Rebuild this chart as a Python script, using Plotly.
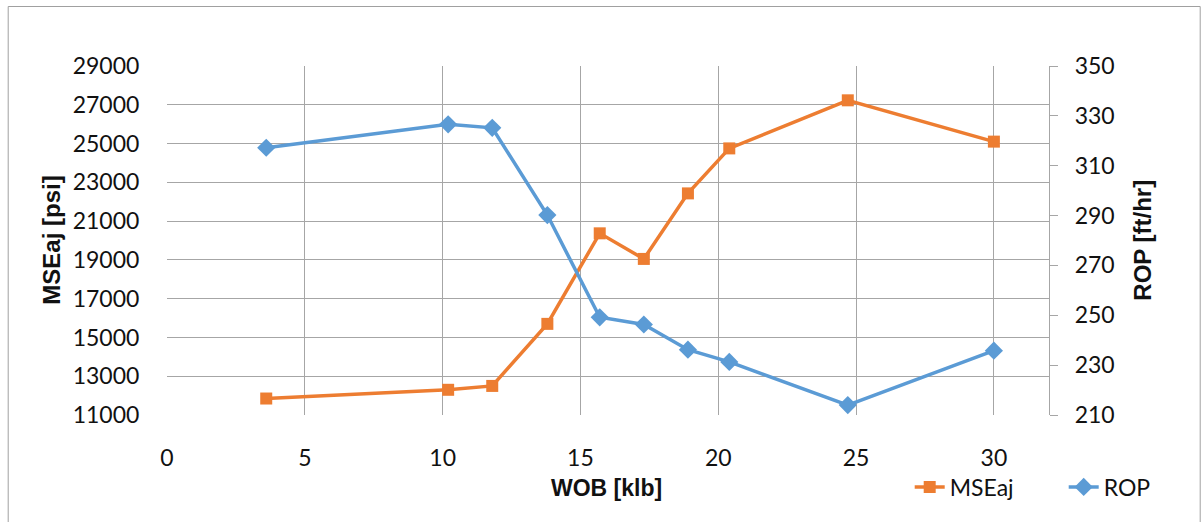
import plotly.graph_objects as go

# Data
wob = [3.6, 10.2, 11.8, 13.8, 15.7, 17.3, 18.9, 20.4, 24.7, 30.0]
mse_aj = [11850, 12300, 12500, 15700, 20370, 19050, 22430, 24750, 27230, 25100]
rop = [317.2, 326.6, 325.2, 290.2, 249.2, 246.3, 236.2, 231.3, 214.0, 235.8]

x_ticks = [0, 5, 10, 15, 20, 25, 30]
y1_ticks = list(range(11000, 29001, 2000))
y2_ticks = list(range(210, 351, 20))

ORANGE = "#ED7D31"
BLUE = "#5B9BD5"
GRID = "#A6A6A6"
FONT = "Lato, 'Open Sans', 'Liberation Sans', sans-serif"
TITLE_FONT = "'Liberation Sans', Arial, sans-serif"

fig = go.Figure()
fig.add_trace(go.Scatter(
    x=wob, y=mse_aj, name="MSEaj", mode="lines+markers",
    line=dict(color=ORANGE, width=3.5),
    marker=dict(symbol="square", size=12, color=ORANGE),
    yaxis="y", legend="legend"))
fig.add_trace(go.Scatter(
    x=wob, y=rop, name="ROP", mode="lines+markers",
    line=dict(color=BLUE, width=3.5),
    marker=dict(symbol="diamond", size=14, color=BLUE),
    yaxis="y2", legend="legend2"))

L, R, T, B = 167.3, 1203 - 1049.3, 66, 522 - 415
W, H = 1203, 522
pw, ph = W - L - R, H - T - B

def px_x(p):
    return (p - L) / pw

def px_y(p):
    return (H - B - p) / ph

legend_common = dict(orientation="h", xanchor="left", y=px_y(487), yanchor="middle",
                     font=dict(family=FONT, size=23, color="#111111"),
                     bgcolor="rgba(0,0,0,0)")

fig.update_layout(
    width=W, height=H,
    margin=dict(l=L, r=R, t=T, b=B, pad=0),
    paper_bgcolor="white", plot_bgcolor="white",
    font=dict(family=FONT, size=23, color="#111111"),
    showlegend=True,
    legend=dict(x=px_x(910), **legend_common),
    legend2=dict(x=px_x(1064), **legend_common),
    xaxis=dict(range=[0, 32], tickvals=x_ticks, ticktext=[str(v) for v in x_ticks],
               showgrid=True, gridcolor=GRID, gridwidth=1.2, zeroline=False,
               showline=False, ticks="outside", ticklen=22, tickcolor="rgba(0,0,0,0)",
               tickfont=dict(size=23)),
    yaxis=dict(range=[11000, 29000], tickvals=y1_ticks, ticktext=[str(v) for v in y1_ticks],
               showgrid=True, gridcolor=GRID, gridwidth=1.2, zeroline=False,
               showline=False, ticks="outside", ticklen=22, tickcolor="rgba(0,0,0,0)",
               tickfont=dict(size=23)),
    yaxis2=dict(range=[210, 350], tickvals=y2_ticks, ticktext=[str(v) for v in y2_ticks],
                overlaying="y", side="right", showgrid=False, zeroline=False,
                showline=True, linecolor=GRID, linewidth=1.2,
                ticks="outside", ticklen=8, tickcolor=GRID, tickwidth=1.2,
                ticklabelstandoff=12,
                tickfont=dict(size=23)),
    shapes=[dict(type="rect", xref="paper", yref="paper",
                 x0=px_x(8.5), x1=px_x(1200.5), y0=px_y(540), y1=px_y(6.5),
                 line=dict(color="#A0A0A0", width=1), fillcolor="rgba(0,0,0,0)",
                 layer="below")],
    annotations=[
        dict(text="<b>MSEaj [psi]</b>", xref="paper", yref="paper",
             x=px_x(51), y=px_y(240), textangle=-90, showarrow=False,
             xanchor="center", yanchor="middle",
             font=dict(family=TITLE_FONT, size=24, color="#111111")),
        dict(text="<b>ROP [ft/hr]</b>", xref="paper", yref="paper",
             x=px_x(1142), y=px_y(240), textangle=-90, showarrow=False,
             xanchor="center", yanchor="middle",
             font=dict(family=TITLE_FONT, size=24, color="#111111")),
        dict(text="<b>WOB [klb]</b>", xref="paper", yref="paper",
             x=px_x(607), y=px_y(488), showarrow=False,
             xanchor="center", yanchor="middle",
             font=dict(family=TITLE_FONT, size=23, color="#111111")),
    ],
)

fig.write_html("out.html", config={"displayModeBar": False},
               post_script="document.body.style.margin='0';document.body.style.overflow='hidden';")
